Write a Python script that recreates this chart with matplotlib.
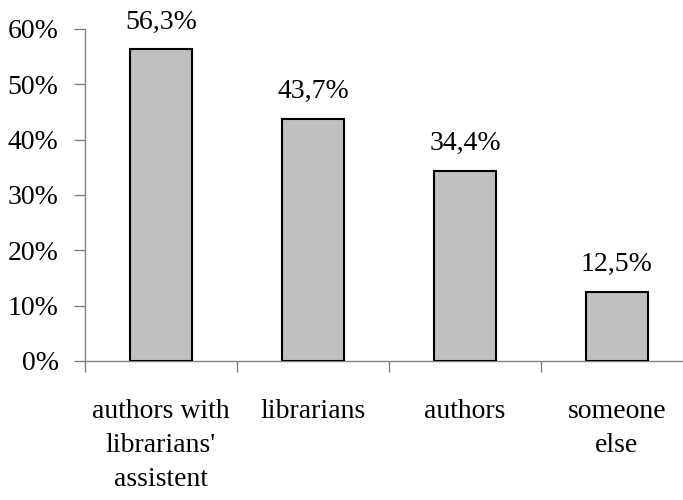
import numpy as np
import matplotlib
matplotlib.use("Agg")
import matplotlib.pyplot as plt
from matplotlib.ticker import FixedLocator, NullFormatter

# data
categories = ["authors with\nlibrarians'\nassistent", "librarians", "authors", "someone\nelse"]
values = [56.3, 43.7, 34.4, 12.5]
y_ticks = [0, 10, 20, 30, 40, 50, 60]

plt.rcParams['font.family'] = ['Liberation Serif', 'DejaVu Serif']
FS = 20

fig = plt.figure(figsize=(6.83, 5.0), dpi=100)
ax = fig.add_axes([85 / 683, 1 - 361 / 500, 608 / 683, (361 - 29) / 500])

x = np.arange(len(categories))
ax.bar(x, values, width=0.41, color='#C0C0C0', edgecolor='black', linewidth=1.5, zorder=3)

for xi, v in zip(x, values):
    label = f"{v:.1f}%".replace('.', ',')
    ax.annotate(label, (xi, v), xytext=(0, 15), textcoords='offset points',
                ha='center', va='baseline', fontsize=FS)

ax.set_xlim(-0.5, len(categories) - 0.5)
ax.set_ylim(0, 60)
ax.set_yticks(y_ticks)
ax.set_yticklabels([f"{t}%" for t in y_ticks], fontsize=FS)

# tick marks between categories, labels centred under bars
ax.xaxis.set_major_locator(FixedLocator(np.arange(len(categories) + 1) - 0.5))
ax.xaxis.set_major_formatter(NullFormatter())
ax.xaxis.set_minor_locator(FixedLocator(x))
ax.set_xticklabels(categories, minor=True, fontsize=FS, linespacing=1.5)
ax.tick_params(axis='x', which='major', direction='out', length=8, color='#808080', width=1)
ax.tick_params(axis='x', which='minor', length=0, pad=27)
ax.tick_params(axis='y', direction='out', length=8, color='#808080', width=1, pad=11)

for s in ['top', 'right']:
    ax.spines[s].set_visible(False)
for s in ['left', 'bottom']:
    ax.spines[s].set_color('#808080')
    ax.spines[s].set_linewidth(1)

fig.savefig('out.png', dpi=100)
